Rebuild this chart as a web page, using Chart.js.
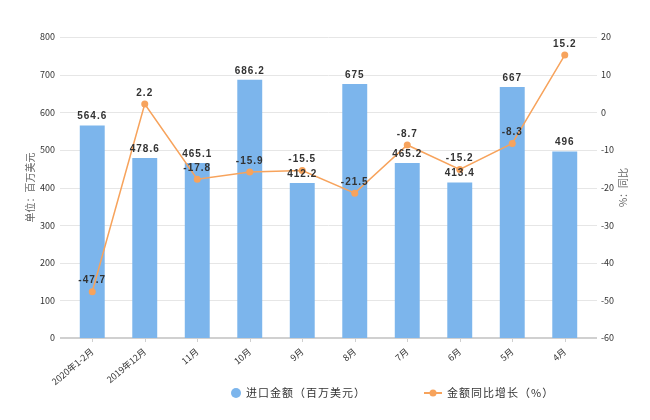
<!DOCTYPE html>
<html>
<head>
<meta charset="utf-8">
<script src="https://cdn.jsdelivr.net/npm/chart.js@4/dist/chart.umd.min.js"></script>
<style>
  body { margin: 0; background: #fff; }
  #wrap { width: 650px; height: 420px; }
</style>
</head>
<body>
<div id="wrap"><canvas id="chart" width="650" height="420"></canvas></div>
<script>
const months = ["2020年1-2月", "2019年12月", "11月", "10月", "9月", "8月", "7月", "6月", "5月", "4月"];
const importAmount = [564.6, 478.6, 465.1, 686.2, 412.2, 675, 465.2, 413.4, 667, 496];
const yoyGrowth = [-47.7, 2.2, -17.8, -15.9, -15.5, -21.5, -8.7, -15.2, -8.3, 15.2];
const leftTicks = [0, 800, 100];
const rightTicks = [-60, 20, 10];

const blue = "#7cb5ec";
const orange = "#f7a35c";
const font = "'Noto Sans CJK SC', 'Noto Sans', sans-serif";

// grid lines a bit wider than the plot, plus the x axis line and its ticks
const gridLines = {
  id: "gridLines",
  beforeDatasetsDraw(chart) {
    const ctx = chart.ctx;
    const a = chart.chartArea;
    const y = chart.scales.y;
    ctx.save();
    ctx.strokeStyle = "#e6e6e6";
    ctx.lineWidth = 1;
    y.ticks.forEach(t => {
      if (t.value === 0) return;
      const py = Math.round(y.getPixelForValue(t.value)) + 0.5;
      ctx.beginPath(); ctx.moveTo(a.left - 6, py); ctx.lineTo(a.right + 6, py); ctx.stroke();
    });
    const by = Math.round(y.getPixelForValue(0));
    ctx.strokeStyle = "#d0d0d0";
    ctx.lineWidth = 2;
    ctx.beginPath(); ctx.moveTo(a.left - 6, by); ctx.lineTo(a.right + 6, by); ctx.stroke();
    ctx.lineWidth = 1;
    const x = chart.scales.x;
    months.forEach((m, i) => {
      const px = Math.round(x.getPixelForValue(i)) + 0.5;
      ctx.beginPath(); ctx.moveTo(px, by); ctx.lineTo(px, by + 4); ctx.stroke();
    });
    ctx.restore();
  }
};

const valueLabels = {
  id: "valueLabels",
  afterDatasetsDraw(chart) {
    const ctx = chart.ctx;
    ctx.save();
    ctx.font = "bold 10px 'Liberation Sans', Arial, sans-serif";
    ctx.fillStyle = "#333";
    ctx.textAlign = "center";
    ctx.textBaseline = "bottom";
    if (ctx.letterSpacing !== undefined) ctx.letterSpacing = "1px";
    chart.data.datasets.forEach((ds, i) => {
      chart.getDatasetMeta(i).data.forEach((el, j) => {
        const off = ds.type === "line" ? 6 : 4;
        ctx.fillText(String(ds.data[j]), el.x, el.y - off);
      });
    });
    ctx.restore();
  }
};

const axisTitles = {
  id: "axisTitles",
  afterDraw(chart) {
    const ctx = chart.ctx;
    const a = chart.chartArea;
    const mid = (a.top + a.bottom) / 2;
    [[30, "单位：百万美元"], [623, "%：同比"]].forEach(([x, t]) => {
      ctx.save();
      ctx.font = "10px " + font;
      ctx.fillStyle = "#666";
      ctx.textAlign = "center";
      ctx.textBaseline = "middle";
      ctx.translate(x, mid);
      ctx.rotate(-Math.PI / 2);
      ctx.fillText(t, 0, 0);
      ctx.restore();
    });
  }
};

// legend at the bottom: blue dot for bars, line with dot for the growth line
const bottomLegend = {
  id: "bottomLegend",
  afterDraw(chart) {
    const ctx = chart.ctx;
    const ly = 393;
    ctx.save();
    ctx.font = "11px " + font;
    if (ctx.letterSpacing !== undefined) ctx.letterSpacing = "1px";
    ctx.textBaseline = "middle";
    ctx.textAlign = "left";
    ctx.fillStyle = blue;
    ctx.beginPath(); ctx.arc(236, ly, 5, 0, Math.PI * 2); ctx.fill();
    ctx.fillStyle = "#333";
    ctx.fillText(chart.data.datasets[1].label, 246, ly);
    ctx.strokeStyle = orange; ctx.lineWidth = 2;
    ctx.beginPath(); ctx.moveTo(424, ly); ctx.lineTo(442, ly); ctx.stroke();
    ctx.fillStyle = orange;
    ctx.beginPath(); ctx.arc(433, ly, 3.5, 0, Math.PI * 2); ctx.fill();
    ctx.fillStyle = "#333";
    ctx.fillText(chart.data.datasets[0].label, 447, ly);
    ctx.restore();
  }
};

new Chart(document.getElementById("chart"), {
  data: {
    labels: months,
    datasets: [
      {
        type: "line",
        label: "金额同比增长（%）",
        data: yoyGrowth,
        yAxisID: "y1",
        borderColor: orange,
        backgroundColor: orange,
        borderWidth: 1.5,
        pointRadius: 3.5,
        pointBackgroundColor: orange,
        pointBorderWidth: 0,
        tension: 0,
        order: 1
      },
      {
        type: "bar",
        label: "进口金额（百万美元）",
        data: importAmount,
        yAxisID: "y",
        backgroundColor: blue,
        categoryPercentage: 0.95,
        barPercentage: 0.5,
        order: 2
      }
    ]
  },
  options: {
    responsive: false,
    animation: false,
    layout: { padding: { top: 37, bottom: 32, left: 0, right: 0 } },
    scales: {
      x: {
        grid: { display: false },
        border: { display: false },
        ticks: {
          color: "#333",
          font: { size: 9, family: font },
          maxRotation: 40,
          minRotation: 40,
          autoSkip: false,
          padding: 0
        },
        afterFit(s) { s.height = 50; }
      },
      y: {
        position: "left",
        min: leftTicks[0], max: leftTicks[1],
        ticks: { stepSize: leftTicks[2], color: "#333", font: { size: 9, family: font }, padding: 3 },
        grid: { display: false },
        border: { display: false },
        afterFit(s) { s.width = 66; }
      },
      y1: {
        position: "right",
        min: rightTicks[0], max: rightTicks[1],
        ticks: { stepSize: rightTicks[2], color: "#333", font: { size: 9, family: font }, padding: 2 },
        grid: { display: false },
        border: { display: false },
        afterFit(s) { s.width = 59; }
      }
    },
    plugins: {
      tooltip: { enabled: false },
      legend: { display: false }
    }
  },
  plugins: [gridLines, valueLabels, axisTitles, bottomLegend]
});
</script>
</body>
</html>
